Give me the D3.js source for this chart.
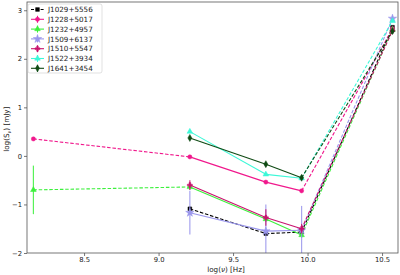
<!DOCTYPE html>
<html>
<head>
<meta charset="utf-8">
<script src="https://cdn.jsdelivr.net/npm/d3@7"></script>
<style>
  body { margin: 0; background: #fff; }
  svg { font-family: "DejaVu Sans", sans-serif; }
</style>
</head>
<body>
<svg id="chart" width="400" height="275"></svg>
<script>
// log frequencies [Hz]
const freqs = [8.16, 9.21, 9.72, 9.96, 10.57];

const names = ["J1029+5556", "J1228+5017", "J1232+4957", "J1509+6137", "J1510+5547", "J1522+3934", "J1641+3454"];
const colors = ["#000000", "#f0188c", "#3cf03c", "#9a96ec", "#c8146e", "#3cf8d8", "#0f4a14"];
const symbols = ["square", "circle", "triangle", "star", "cross", "triangle", "diamond"];

// log flux values (null = no data)
const vJ1029 = [null, -1.09, -1.60, -1.57, 2.65];
const vJ1228 = [0.35, -0.02, -0.54, -0.72, 2.62];
const vJ1232 = [-0.70, -0.64, -1.30, -1.63, 2.60];
const vJ1509 = [null, -1.17, -1.55, -1.53, 2.83];
const vJ1510 = [null, -0.60, -1.27, -1.50, 2.58];
const vJ1522 = [null, 0.50, -0.38, -0.46, 2.78];
const vJ1641 = [null, 0.37, -0.17, -0.45, 2.57];

// errors
const eJ1029 = [0, 0.05, 0.05, 0.04, 0];
const eJ1228 = [0, 0.03, 0.03, 0.03, 0];
const eJ1232 = [0.50, 0.05, 0.06, 0.06, 0];
const eJ1509 = [0, 0.45, 0.55, 0.50, 0];
const eJ1510 = [0, 0.10, 0.17, 0.10, 0];
const eJ1522 = [0, 0.02, 0.02, 0.02, 0];
const eJ1641 = [0, 0.02, 0.02, 0.02, 0];

const values = [vJ1029, vJ1228, vJ1232, vJ1509, vJ1510, vJ1522, vJ1641];
const errors = [eJ1029, eJ1228, eJ1232, eJ1509, eJ1510, eJ1522, eJ1641];
const allDashed = [true, false, false, false, false, false, false];

const xTicks = [8.5, 9.0, 9.5, 10.0, 10.5];
const yTicks = [-2, -1, 0, 1, 2, 3];

const svg = d3.select("#chart");
const margin = {top: 2, right: 2, bottom: 22, left: 27};
const width = 400 - margin.left - margin.right;
const height = 275 - margin.top - margin.bottom;

const g = svg.append("g")
    .attr("transform", "translate(" + margin.left + "," + margin.top + ")");

const x = d3.scaleLinear().domain([8.117, 10.607]).range([0, width]);
const y = d3.scaleLinear().domain([-2, 3.17]).range([height, 0]);

// clip for error bars that go past the bottom
svg.append("clipPath").attr("id", "clip")
    .append("rect").attr("width", width).attr("height", height);

const plot = g.append("g").attr("clip-path", "url(#clip)");

function symbolType(s) {
    return {
        square: d3.symbolSquare,
        circle: d3.symbolCircle,
        triangle: d3.symbolTriangle,
        star: d3.symbolStar,
        cross: d3.symbolCross,
        diamond: d3.symbolDiamond
    }[s];
}

// each series: line segments, error bars, markers
values.forEach((vals, si) => {
    const pts = freqs.map((f, i) => ({f: f, v: vals[i], e: errors[si][i], i: i}))
        .filter(d => d.v !== null);
    const col = colors[si];
    const sg = plot.append("g");

    for (let k = 0; k < pts.length - 1; k++) {
        const a = pts[k], b = pts[k + 1];
        const solid = !allDashed[si] && a.i >= 1 && b.i <= 3;
        sg.append("line")
            .attr("x1", x(a.f)).attr("y1", y(a.v))
            .attr("x2", x(b.f)).attr("y2", y(b.v))
            .attr("stroke", col)
            .attr("stroke-width", 1.1)
            .attr("stroke-dasharray", solid ? null : "3.5,1.8");
    }

    sg.selectAll(".err")
        .data(pts.filter(d => d.e > 0))
        .enter().append("line")
        .attr("x1", d => x(d.f)).attr("x2", d => x(d.f))
        .attr("y1", d => y(d.v + d.e)).attr("y2", d => y(d.v - d.e))
        .attr("stroke", col)
        .attr("stroke-width", 1.2)
        .attr("opacity", 0.85);

    const sym = d3.symbol().type(symbolType(symbols[si])).size(symbols[si] === "star" ? 22 : 14);
    sg.selectAll(".mk")
        .data(pts)
        .enter().append("path")
        .attr("d", sym)
        .attr("transform", d => "translate(" + x(d.f) + "," + y(d.v) + ")")
        .attr("fill", col)
        .attr("stroke", col)
        .attr("stroke-width", 0.5);
});

// frame
g.append("rect")
    .attr("width", width).attr("height", height)
    .attr("fill", "none").attr("stroke", "#555").attr("stroke-width", 0.8);

// axes
const xAxis = g.append("g")
    .attr("transform", "translate(0," + height + ")")
    .call(d3.axisBottom(x).tickValues(xTicks).tickFormat(d3.format(".1f")).tickSize(3).tickPadding(1.5));
const yAxis = g.append("g")
    .call(d3.axisLeft(y).tickValues(yTicks).tickFormat(d => d < 0 ? "\u2212" + Math.abs(d) : d).tickSize(3).tickPadding(2));
[xAxis, yAxis].forEach(ax => {
    ax.select(".domain").remove();
    ax.selectAll("text").attr("font-size", 6.8).attr("fill", "#222")
        .attr("font-family", "DejaVu Sans, sans-serif");
    ax.selectAll("line").attr("stroke", "#555").attr("stroke-width", 0.8);
});

// axis labels
svg.append("text")
    .attr("x", 226).attr("y", 272)
    .attr("text-anchor", "middle")
    .attr("font-size", 7.2).attr("fill", "#222")
    .html("log(<tspan font-style='italic'>ν</tspan>) [Hz]");

svg.append("text")
    .attr("transform", "translate(9," + (margin.top + y(0.55)) + ") rotate(-90)")
    .attr("text-anchor", "middle")
    .attr("font-size", 7.2).attr("fill", "#222")
    .html("log(S<tspan font-size='5' dy='1.5'><tspan font-style='italic'>ν</tspan></tspan><tspan dy='-1.5'>) [mJy]</tspan>");

// legend
const leg = g.append("g").attr("transform", "translate(1,2)");
leg.append("rect")
    .attr("width", 74).attr("height", 69)
    .attr("rx", 2)
    .attr("fill", "#fff").attr("fill-opacity", 0.85)
    .attr("stroke", "#ccc").attr("stroke-width", 0.6);

names.forEach((name, i) => {
    const row = leg.append("g").attr("transform", "translate(0," + (5.5 + i * 9.8) + ")");
    row.append("line")
        .attr("x1", 3).attr("x2", 16).attr("y1", 0).attr("y2", 0)
        .attr("stroke", colors[i]).attr("stroke-width", 1.1)
        .attr("stroke-dasharray", allDashed[i] ? "3,1.8" : null);
    if (i > 0) {
        row.append("line")
            .attr("x1", 9.5).attr("x2", 9.5).attr("y1", -3.5).attr("y2", 3.5)
            .attr("stroke", colors[i]).attr("stroke-width", 1.1);
    }
    row.append("path")
        .attr("d", d3.symbol().type(symbolType(symbols[i])).size(symbols[i] === "star" ? 22 : 14))
        .attr("transform", "translate(9.5,0)")
        .attr("fill", colors[i]).attr("stroke", colors[i]).attr("stroke-width", 0.5);
    row.append("text")
        .attr("x", 20).attr("y", 2.6)
        .attr("font-size", 7.2).attr("fill", "#222")
        .text(name);
});
</script>
</body>
</html>
